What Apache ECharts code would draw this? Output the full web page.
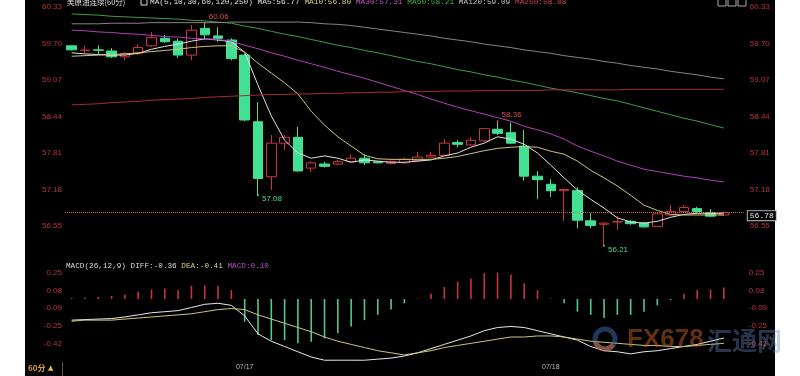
<!DOCTYPE html>
<html>
<head>
<meta charset="utf-8">
<script src="https://cdn.jsdelivr.net/npm/echarts@6/dist/echarts.min.js"></script>
<style>
html,body{margin:0;padding:0;background:#fff;}
#main{width:800px;height:376px;}
</style>
</head>
<body>
<div id="main"></div>
<script>
// 60-minute bars, the last slot is left empty like the terminal does
var categories = [
  '07/16','07/16','07/16','07/16','07/16','07/16','07/16','07/16','07/16','07/16','07/16','07/16','07/16',
  '07/17','07/17','07/17','07/17','07/17','07/17','07/17','07/17','07/17','07/17','07/17','07/17',
  '07/17','07/17','07/17','07/17','07/17','07/17','07/17','07/17','07/17','07/17','07/17',
  '07/18','07/18','07/18','07/18','07/18','07/18','07/18','07/18','07/18','07/18','07/18','07/18','07/18','07/18',
  ''
];

// [open, close, low, high]
var ohlc = [
  [59.66,59.59,59.58,59.67],[59.58,59.585,59.54,59.66],[59.59,59.585,59.52,59.67],[59.57,59.47,59.45,59.62],
  [59.47,59.53,59.41,59.55],[59.53,59.63,59.50,59.69],[59.66,59.80,59.64,59.90],[59.79,59.73,59.71,59.85],
  [59.74,59.50,59.45,59.78],[59.50,59.93,59.41,60.02],[59.96,59.85,59.76,60.06],[59.83,59.79,59.73,59.98],
  [59.76,59.44,59.41,59.79],[59.50,58.38,58.36,59.52],[58.35,57.37,57.08,58.69],[57.40,57.98,57.17,58.12],
  [57.98,58.08,57.86,58.12],[58.08,57.50,57.49,58.26],[57.55,57.64,57.48,57.67],[57.62,57.58,57.56,57.66],
  [57.62,57.66,57.60,57.69],[57.66,57.72,57.64,57.79],[57.72,57.64,57.60,57.79],[57.66,57.64,57.63,57.67],
  [57.63,57.66,57.61,57.68],[57.64,57.70,57.62,57.73],[57.68,57.74,57.66,57.83],[57.74,57.77,57.72,57.83],
  [57.77,57.98,57.76,58.05],[57.99,57.96,57.91,58.03],[57.95,58.03,57.94,58.09],[58.02,58.23,58.00,58.24],
  [58.22,58.15,58.12,58.36],[58.16,57.98,57.96,58.34],[57.93,57.41,57.33,58.21],[57.41,57.35,57.01,57.50],
  [57.27,57.16,57.05,57.36],[57.16,57.18,56.64,57.19],[57.16,56.65,56.51,57.22],[56.64,56.56,56.51,56.77],
  [56.58,56.60,56.21,56.61],[56.62,56.625,56.48,56.72],[56.63,56.59,56.57,56.65],[56.60,56.535,56.52,56.62],
  [56.54,56.76,56.53,56.77],[56.74,56.80,56.73,56.91],[56.80,56.87,56.79,56.91],[56.85,56.80,56.78,56.88],
  [56.78,56.72,56.70,56.84],[56.74,56.78,56.73,56.80]
];

var ma5 = [59.54,59.52,59.51,59.50,59.50,59.53,59.60,59.65,59.69,59.74,59.78,59.76,59.73,59.55,58.98,58.45,58.03,57.81,57.72,57.76,
  57.72,57.65,57.69,57.67,57.65,57.65,57.67,57.69,57.76,57.81,57.91,57.98,58.09,58.05,57.96,57.81,57.60,57.38,57.17,57.01,
  56.86,56.69,56.62,56.60,56.63,56.70,56.75,56.77,56.77,56.77];
var ma10 = [59.48,59.49,59.50,59.51,59.52,59.54,59.56,59.58,59.60,59.63,59.65,59.66,59.66,59.55,59.36,59.19,59.02,58.83,58.53,58.29,
  58.09,57.93,57.77,57.71,57.70,57.70,57.70,57.70,57.72,57.75,57.80,57.85,57.89,57.91,57.92,57.91,57.84,57.79,57.67,57.51,
  57.38,57.24,57.08,56.91,56.82,56.75,56.74,56.74,56.74,56.74];
var ma30 = [59.93,59.92,59.90,59.89,59.87,59.86,59.84,59.82,59.81,59.79,59.78,59.77,59.74,59.67,59.61,59.54,59.48,59.41,59.35,59.29,
  59.22,59.16,59.10,59.03,58.96,58.89,58.82,58.74,58.67,58.60,58.54,58.48,58.42,58.36,58.27,58.21,58.14,58.05,57.93,57.84,
  57.76,57.67,57.60,57.53,57.49,57.45,57.41,57.38,57.34,57.31];
var ma60 = [60.21,60.20,60.19,60.17,60.16,60.15,60.14,60.13,60.12,60.10,60.09,60.07,60.05,60.00,59.96,59.91,59.86,59.82,59.77,59.72,
  59.67,59.63,59.58,59.54,59.49,59.44,59.39,59.35,59.30,59.25,59.21,59.16,59.12,59.07,59.03,58.98,58.93,58.89,58.85,58.80,
  58.75,58.71,58.65,58.59,58.53,58.47,58.41,58.36,58.30,58.24];
var ma120 = [60.04,60.04,60.04,60.05,60.05,60.05,60.06,60.06,60.06,60.06,60.06,60.06,60.07,60.07,60.07,60.07,60.07,60.07,60.06,60.04,
  60.03,60.01,59.98,59.95,59.92,59.89,59.86,59.83,59.79,59.76,59.73,59.69,59.66,59.63,59.59,59.56,59.53,59.49,59.46,59.43,
  59.39,59.36,59.32,59.29,59.26,59.22,59.19,59.16,59.12,59.09];
var ma250 = [58.64,58.65,58.66,58.68,58.69,58.70,58.72,58.73,58.74,58.75,58.77,58.78,58.79,58.80,58.81,58.82,58.82,58.83,58.83,58.84,
  58.84,58.85,58.85,58.86,58.86,58.87,58.87,58.87,58.88,58.88,58.88,58.89,58.89,58.89,58.89,58.89,58.90,58.90,58.90,58.90,
  58.90,58.90,58.91,58.91,58.91,58.91,58.91,58.91,58.91,58.91];

var macdHist = [0.01,0.015,0.02,0.03,0.04,0.07,0.09,0.10,0.085,0.125,0.13,0.125,0.085,-0.215,-0.34,-0.39,-0.39,-0.42,-0.405,-0.375,
  -0.325,-0.26,-0.20,-0.15,-0.10,-0.04,0.005,0.05,0.115,0.165,0.195,0.245,0.25,0.23,0.15,0.085,0.005,-0.04,-0.12,-0.15,
  -0.18,-0.15,-0.15,-0.12,-0.06,-0.01,0.05,0.085,0.09,0.11];
var diff = [-0.20,-0.195,-0.19,-0.185,-0.17,-0.15,-0.13,-0.12,-0.11,-0.08,-0.05,-0.04,-0.06,-0.16,-0.33,-0.40,-0.45,-0.50,-0.55,-0.58,
  -0.58,-0.58,-0.58,-0.57,-0.56,-0.54,-0.51,-0.47,-0.43,-0.39,-0.35,-0.30,-0.27,-0.26,-0.27,-0.30,-0.33,-0.36,-0.39,-0.45,
  -0.49,-0.50,-0.52,-0.50,-0.49,-0.47,-0.45,-0.43,-0.40,-0.37];
var dea = [-0.21,-0.20,-0.20,-0.20,-0.19,-0.18,-0.17,-0.16,-0.15,-0.14,-0.12,-0.10,-0.09,-0.10,-0.15,-0.19,-0.23,-0.27,-0.31,-0.36,
  -0.40,-0.43,-0.46,-0.49,-0.51,-0.53,-0.51,-0.49,-0.46,-0.44,-0.42,-0.40,-0.38,-0.36,-0.36,-0.35,-0.35,-0.36,-0.38,-0.40,
  -0.41,-0.42,-0.43,-0.44,-0.44,-0.45,-0.45,-0.44,-0.43,-0.42];

// high / low marks printed on the chart
var markIdx = [10, 14, 32, 40];
var markVal = [60.06, 57.08, 58.36, 56.21];
var markIsHigh = [true, false, true, false];
var lastPrice = 56.78;

var macdTickVals = [0.25, 0.08, -0.09, -0.25, -0.42];
var macdTickText = ['0.25', '0.08', '-0.09', '-0.25', '-0.42'];

var RED = '#cf3442', GREEN = '#42e093', AXISRED = '#b8333d';
var MONO = '"Liberation Mono","DejaVu Sans Mono",monospace';

function macdLabel(v) {
  for (var i = 0; i < macdTickVals.length; i++) {
    if (Math.abs(macdTickVals[i] - v) < 0.03) return macdTickText[i];
  }
  return '';
}

var markData = [];
for (var k = 0; k < markIdx.length; k++) {
  var c = markIsHigh[k] ? '#e04a5a' : '#46d890';
  markData.push({
    coord: [markIdx[k], markVal[k]],
    value: markVal[k].toFixed(2),
    itemStyle: { color: c },
    label: { color: c, offset: markIsHigh[k] ? [0, -6] : [0, 4] }
  });
}

function maLine(name, data, color) {
  return {
    name: name, type: 'line', data: data, xAxisIndex: 0, yAxisIndex: 0,
    symbol: 'none', silent: true, z: 3,
    lineStyle: { width: 1, color: color }
  };
}

var priceLabel = {
  color: AXISRED, fontSize: 8, fontFamily: 'Liberation Sans',
  showMinLabel: false,
  formatter: function (v) { return v.toFixed(2); }
};
var macdAxisLabel = {
  color: AXISRED, fontSize: 8, fontFamily: 'Liberation Sans',
  showMinLabel: false, showMaxLabel: false,
  formatter: macdLabel
};

var option = {
  backgroundColor: '#000',
  animation: false,
  grid: [
    { left: 65, right: 56.2, top: 7, height: 255.5 },
    { left: 65, right: 56.2, top: 255, height: 106 }
  ],
  xAxis: [
    { type: 'category', gridIndex: 0, data: categories, boundaryGap: true,
      axisLine: { show: false }, axisTick: { show: false }, axisLabel: { show: false }, splitLine: { show: false } },
    { type: 'category', gridIndex: 1, data: categories, boundaryGap: true,
      axisLine: { show: false }, axisTick: { show: false }, splitLine: { show: false },
      axisLabel: {
        color: '#bdbdbd', fontSize: 7, fontFamily: 'Liberation Sans', margin: 3,
        interval: function (i, v) { return i > 0 && v !== '' && v !== categories[i - 1]; }
      } }
  ],
  yAxis: [
    { type: 'value', gridIndex: 0, position: 'left', min: 55.92, max: 60.33, interval: 0.63,
      axisLine: { show: false }, axisTick: { show: false }, splitLine: { show: false },
      axisLabel: Object.assign({ margin: 3 }, priceLabel) },
    { type: 'value', gridIndex: 0, position: 'right', min: 55.92, max: 60.33, interval: 0.63,
      axisLine: { show: false }, axisTick: { show: false }, splitLine: { show: false },
      axisLabel: Object.assign({ margin: 6 }, priceLabel) },
    { type: 'value', gridIndex: 1, position: 'left', min: -0.5875, max: 0.4175, interval: 0.1675,
      axisLine: { show: false }, axisTick: { show: false }, splitLine: { show: false },
      axisLabel: Object.assign({ margin: 3 }, macdAxisLabel) },
    { type: 'value', gridIndex: 1, position: 'right', min: -0.5875, max: 0.4175, interval: 0.1675,
      axisLine: { show: false }, axisTick: { show: false }, splitLine: { show: false },
      axisLabel: Object.assign({ margin: 5 }, macdAxisLabel) }
  ],
  series: [
    {
      name: 'K', type: 'candlestick', data: ohlc, xAxisIndex: 0, yAxisIndex: 0,
      barWidth: 10, silent: true,
      itemStyle: { color: 'rgba(0,0,0,0)', color0: GREEN, borderColor: RED, borderColor0: GREEN, borderWidth: 1 },
      markLine: {
        symbol: 'none', silent: true, animation: false,
        data: [{ yAxis: lastPrice }],
        lineStyle: { type: 'dotted', color: '#d8663a', width: 1 },
        label: {
          position: 'end', distance: 4, offset: [0, 3], formatter: lastPrice.toFixed(2),
          color: '#e6e6e6', fontSize: 8, fontFamily: 'Liberation Mono',
          backgroundColor: '#000', borderColor: '#bbbbbb', borderWidth: 1, padding: [1, 2, 0, 2]
        }
      },
      markPoint: {
        symbol: 'circle', symbolSize: 2, silent: true, animation: false,
        label: { show: true, position: 'right', distance: 3, fontSize: 8, fontFamily: 'Liberation Sans',
          formatter: function (p) { return p.value; } },
        data: markData
      }
    },
    maLine('MA5', ma5, '#e2e2e2'),
    maLine('MA10', ma10, '#cfc47a'),
    maLine('MA30', ma30, '#b23fb8'),
    maLine('MA60', ma60, '#3f9e3f'),
    maLine('MA120', ma120, '#858585'),
    maLine('MA250', ma250, '#a82a36'),
    {
      name: 'MACD', type: 'bar', data: macdHist, xAxisIndex: 1, yAxisIndex: 2,
      barWidth: 1.6, silent: true,
      itemStyle: { color: function (p) { return p.value >= 0 ? '#c8343e' : '#52c88e'; } }
    },
    { name: 'DIFF', type: 'line', data: diff, xAxisIndex: 1, yAxisIndex: 2, symbol: 'none', silent: true,
      lineStyle: { width: 1, color: '#e8e8e8' } },
    { name: 'DEA', type: 'line', data: dea, xAxisIndex: 1, yAxisIndex: 2, symbol: 'none', silent: true,
      lineStyle: { width: 1, color: '#cfc47a' } }
  ],
  graphic: [
    { type: 'rect', silent: true, shape: { x: 0, y: 0, width: 25, height: 376 }, style: { fill: '#fff' } },
    { type: 'rect', silent: true, shape: { x: 775, y: 0, width: 25, height: 376 }, style: { fill: '#fff' } },
    { type: 'text', silent: true, x: 67, y: 2,
      style: { text: '美原油连续(60分)', font: '7.5px "Noto Sans CJK SC"', fill: '#e0e0e0', verticalAlign: 'middle' } },
    { type: 'rect', silent: true, shape: { x: 141, y: -1, width: 6, height: 6 }, style: { fill: 'none', stroke: '#ddd', lineWidth: 1 } },
    { type: 'text', silent: true, x: 150, y: 2,
      style: {
        text: '{w|MA(5,10,30,60,120,250)} {w|MA5:56.77} {y|MA10:56.80} {p|MA30:57.31} {g|MA60:58.21} {s|MA120:59.09} {r|MA250:58.88}',
        font: '7.8px ' + MONO, fill: '#ddd', verticalAlign: 'middle',
        rich: {
          w: { fill: '#e0e0e0', font: '7.8px ' + MONO },
          y: { fill: '#d8d080', font: '7.8px ' + MONO },
          p: { fill: '#c050c0', font: '7.8px ' + MONO },
          g: { fill: '#44b044', font: '7.8px ' + MONO },
          s: { fill: '#c4c4c4', font: '7.8px ' + MONO },
          r: { fill: '#d04050', font: '7.8px ' + MONO }
        }
      } },
    { type: 'rect', silent: true, shape: { x: 718, y: -1, width: 8, height: 7 }, style: { fill: 'none', stroke: '#aaa', lineWidth: 1 } },
    { type: 'rect', silent: true, shape: { x: 728, y: -1, width: 8, height: 7 }, style: { fill: 'none', stroke: '#aaa', lineWidth: 1 } },
    { type: 'rect', silent: true, shape: { x: 738, y: -1, width: 8, height: 7 }, style: { fill: 'none', stroke: '#aaa', lineWidth: 1 } },
    { type: 'text', silent: true, x: 66, y: 266,
      style: {
        text: '{w|MACD(26,12,9) DIFF:-0.36} {y|DEA:-0.41} {p|MACD:0.10}',
        font: '7.7px ' + MONO, fill: '#ddd', verticalAlign: 'middle',
        rich: {
          w: { fill: '#dcdcdc', font: '7.7px ' + MONO },
          y: { fill: '#d8d08a', font: '7.7px ' + MONO },
          p: { fill: '#b050c0', font: '7.7px ' + MONO }
        }
      } },
    { type: 'text', silent: true, x: 28, y: 368,
      style: { text: '60分', font: 'bold 8px "Noto Sans CJK SC"', fill: '#e0a040', verticalAlign: 'middle' } },
    { type: 'text', silent: true, x: 48, y: 368,
      style: { text: '▲', font: '7px "DejaVu Sans"', fill: '#e8c040', verticalAlign: 'middle' } },
    { type: 'line', silent: true, shape: { x1: 62.5, y1: 362, x2: 62.5, y2: 376 }, style: { stroke: '#555', lineWidth: 1 } },
    // watermark
    { type: 'circle', silent: true, z: 100, shape: { cx: 605, cy: 339, r: 10 },
      style: { fill: 'none', stroke: 'rgba(70,120,200,0.45)', lineWidth: 5 } },
    { type: 'arc', silent: true, z: 101, shape: { cx: 605, cy: 339, r: 10, startAngle: 0.6, endAngle: 2.9 },
      style: { fill: 'none', stroke: 'rgba(225,110,40,0.5)', lineWidth: 5 } },
    { type: 'text', silent: true, z: 100, x: 627, y: 340,
      style: { text: 'FX678', font: 'bold 26px "Liberation Sans"', fill: 'rgba(215,105,40,0.45)', verticalAlign: 'middle' } },
    { type: 'text', silent: true, z: 100, x: 707, y: 340,
      style: { text: '汇通网', font: 'bold 25px "Noto Sans CJK SC"', fill: 'rgba(110,140,200,0.38)', verticalAlign: 'middle' } }
  ]
};

var chart = echarts.init(document.getElementById('main'));
chart.setOption(option);
</script>
</body>
</html>
